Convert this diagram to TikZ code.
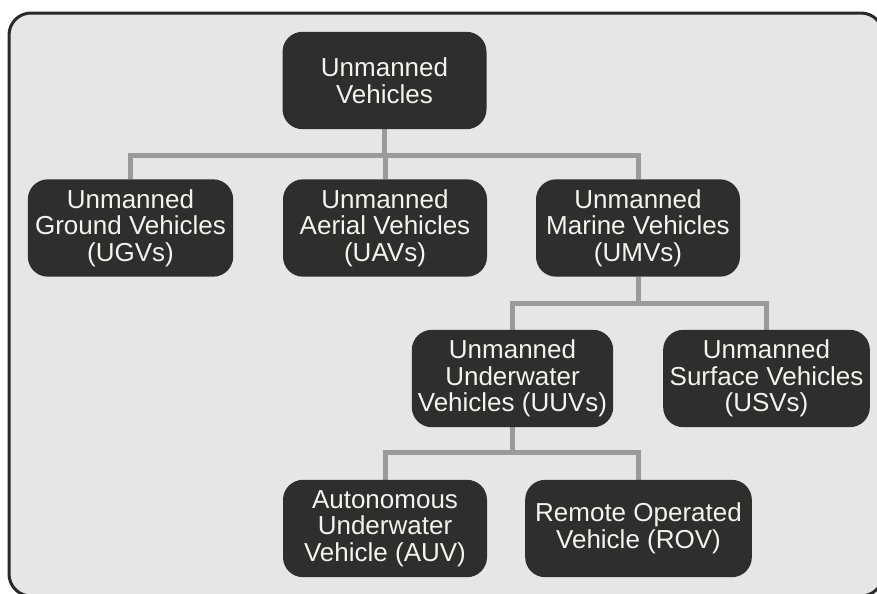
\documentclass[tikz,border=0pt]{standalone}
\usepackage{fontspec}
\setmainfont{Liberation Sans}
\usetikzlibrary{backgrounds}
\definecolor{panelfill}{HTML}{E6E6E6}
\definecolor{panelline}{HTML}{2A2A2A}
\definecolor{boxfill}{HTML}{2C2F2B}
\definecolor{boxtext}{HTML}{F4F4EE}
\definecolor{linkgray}{HTML}{9A9A9A}
\begin{document}
\begin{tikzpicture}[x=0.75pt,y=-0.75pt,
  vbox/.style={rectangle, rounded corners=15pt, fill=boxfill, text=boxtext,
    minimum width=153pt, minimum height=73pt, inner sep=0pt, align=center,
    font=\fontsize{19.5}{20}\selectfont},
  link/.style={draw=linkgray, line width=3.75pt, line join=miter, line cap=butt},
  panel/.style={fill=panelfill, draw=panelline, line width=2.25pt, rounded corners=16.5pt}]
\useasboundingbox (0,0) rectangle (877,593);

% tree nodes
\node[vbox] (root) at (384.5,80.5) {Unmanned\\Vehicles};
\node[vbox, minimum width=154pt] (ugv) at (130.5,228) {Unmanned\\Ground Vehicles\\(UGVs)};
\node[vbox] (uav) at (385,228) {Unmanned\\Aerial Vehicles\\(UAVs)};
\node[vbox] (umv) at (638,228) {Unmanned\\Marine Vehicles\\(UMVs)};
\node[vbox, minimum width=151pt] (uuv) at (512.5,378.5) {Unmanned\\Underwater\\Vehicles (UUVs)};
\node[vbox, minimum width=155pt] (usv) at (766.5,378.5) {Unmanned\\Surface Vehicles\\(USVs)};
\node[vbox] (auv) at (385,528.5) {Autonomous\\Underwater\\Vehicle (AUV)};
\node[vbox, minimum width=170pt] (rov) at (638.5,528.5) {Remote Operated\\Vehicle (ROV)};

% junction points of the connector bars
\coordinate (j1) at (384.5,155);
\coordinate (j2) at (638,303);
\coordinate (j3) at (512.5,452);

\begin{scope}[on background layer]
  \draw[panel] (9,13) rectangle (883,596);
  \draw[link] (root.south) -- (j1);
  \draw[link] (ugv.north) |- (j1) -| (umv.north);
  \draw[link] (uav.north) -- (uav.north |- j1);
  \draw[link] (umv.south) -- (j2);
  \draw[link] (uuv.north) |- (j2) -| (usv.north);
  \draw[link] (uuv.south) -- (j3);
  \draw[link] (auv.north) |- (j3) -| (rov.north);
\end{scope}
\end{tikzpicture}
\end{document}
